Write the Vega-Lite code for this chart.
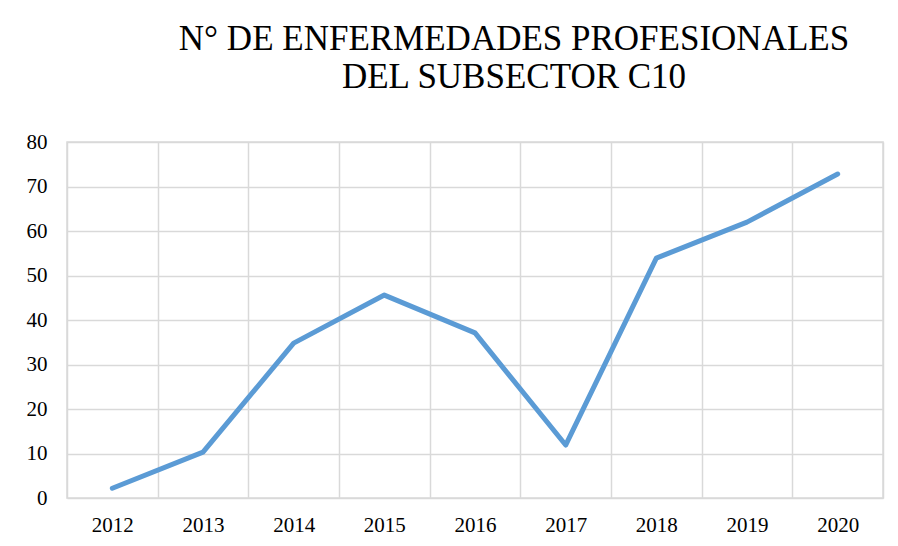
{
  "$schema": "https://vega.github.io/schema/vega-lite/v6.json",
  "width": 816,
  "height": 356,
  "autosize": "none",
  "padding": {"left": 67, "top": 142, "right": 15, "bottom": 48},
  "background": "white",
  "title": {
    "text": ["N° DE ENFERMEDADES PROFESIONALES", "DEL SUBSECTOR C10"],
    "font": "Liberation Serif",
    "fontSize": 35,
    "fontWeight": "normal",
    "color": "#000000",
    "lineHeight": 38,
    "anchor": "middle",
    "dx": 39,
    "offset": 36
  },
  "data": {
    "values": [
      {"year": "2012", "value": 2.2},
      {"year": "2013", "value": 10.3},
      {"year": "2014", "value": 34.8},
      {"year": "2015", "value": 45.6},
      {"year": "2016", "value": 37.1},
      {"year": "2017", "value": 11.9},
      {"year": "2018", "value": 53.9},
      {"year": "2019", "value": 62.0},
      {"year": "2020", "value": 72.8}
    ]
  },
  "mark": {"type": "line", "color": "#5B9BD5", "strokeWidth": 5, "strokeCap": "round", "strokeJoin": "round"},
  "encoding": {
    "x": {
      "field": "year",
      "type": "ordinal",
      "bandPosition": 0.5,
      "scale": {"type": "band", "paddingInner": 0, "paddingOuter": 0},
      "axis": {
        "title": null,
        "labelAngle": 0,
        "tickBand": "extent",
        "grid": true,
        "gridColor": "#d9d9d9",
        "gridWidth": 1.5,
        "ticks": false,
        "domain": false,
        "labelFont": "Liberation Serif",
        "labelFontSize": 21,
        "labelColor": "#000000",
        "labelPadding": 16
      }
    },
    "y": {
      "field": "value",
      "type": "quantitative",
      "scale": {"domain": [0, 80]},
      "axis": {
        "title": null,
        "values": [0, 10, 20, 30, 40, 50, 60, 70, 80],
        "grid": true,
        "gridColor": "#d9d9d9",
        "gridWidth": 1.5,
        "ticks": false,
        "domain": false,
        "labelFont": "Liberation Serif",
        "labelFontSize": 21,
        "labelColor": "#000000",
        "labelPadding": 20
      }
    }
  },
  "config": {
    "view": {"stroke": "#d9d9d9", "strokeWidth": 1.5}
  }
}
